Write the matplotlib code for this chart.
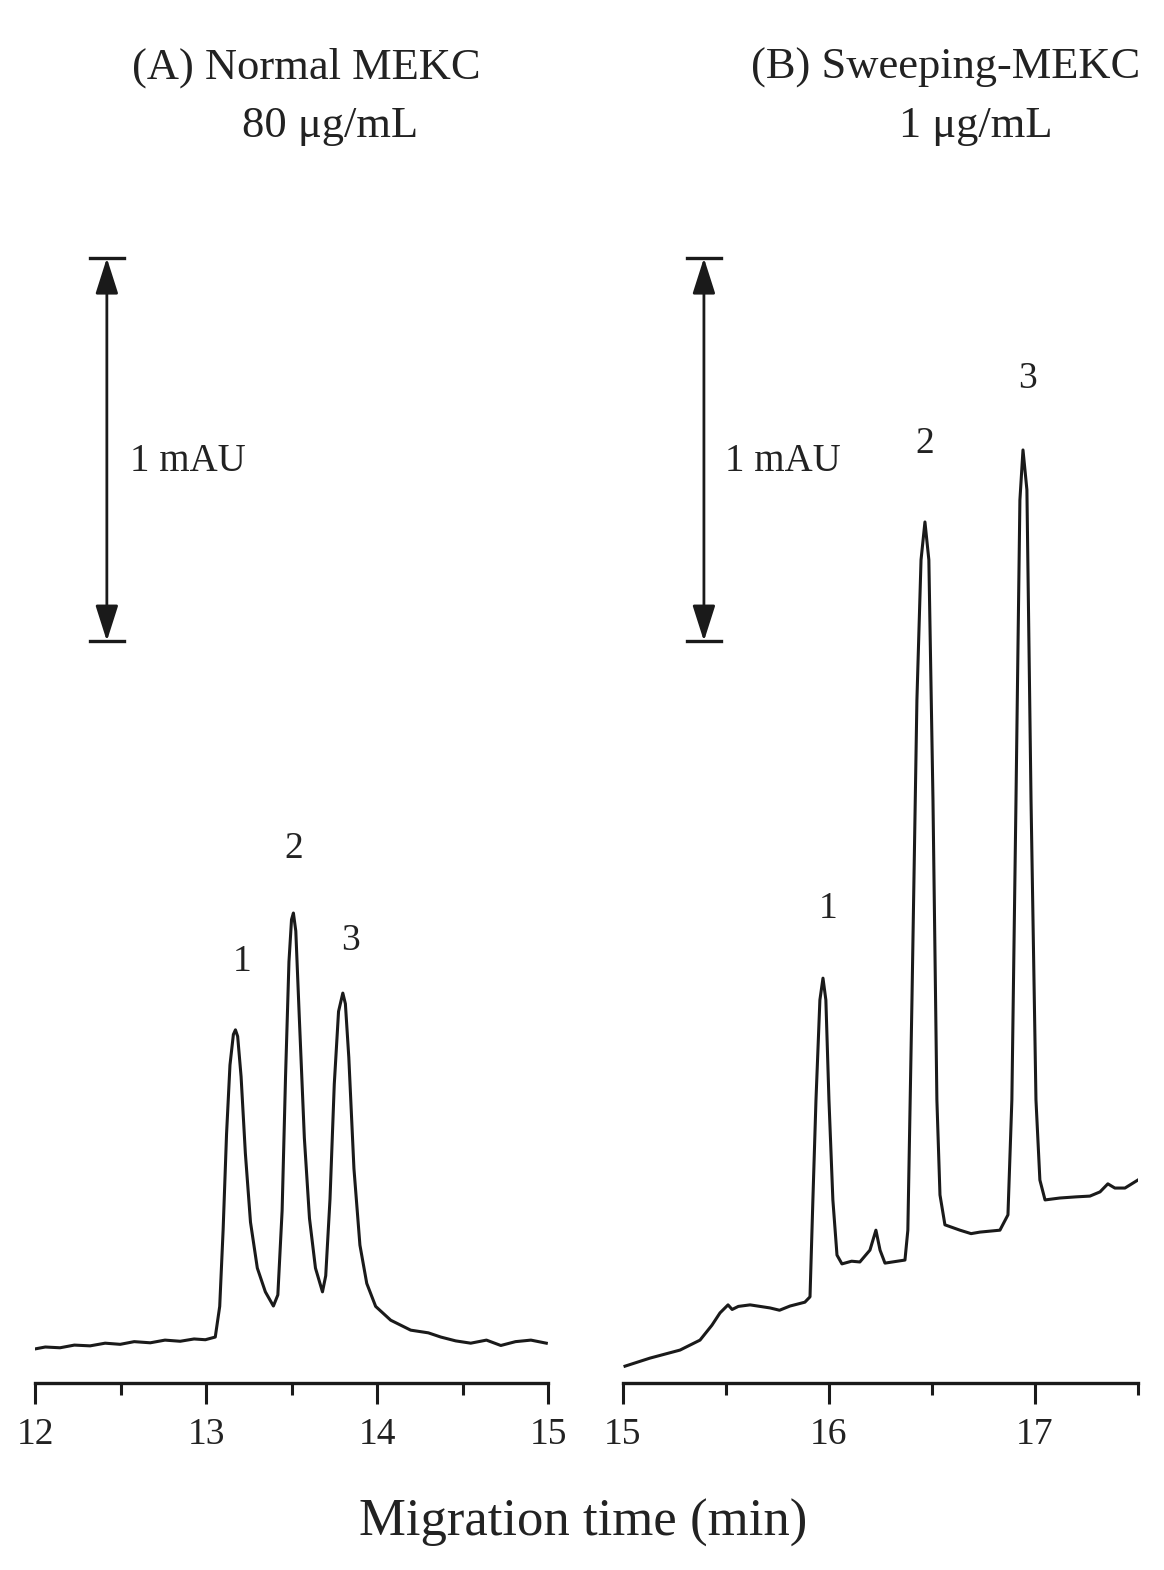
import matplotlib
matplotlib.use("Agg")
import matplotlib.pyplot as plt

plt.rcParams['font.family'] = ['Liberation Serif', 'DejaVu Serif']

# Electropherogram traces
# time in min, absorbance in mAU (offset baseline)

time_a = [12.000, 12.060, 12.146, 12.230, 12.322, 12.410, 12.498, 12.580, 12.674,
          12.760, 12.849, 12.930, 12.996, 13.054, 13.080, 13.100, 13.120, 13.140,
          13.160, 13.172, 13.185, 13.205, 13.230, 13.260, 13.300, 13.347, 13.394,
          13.420, 13.445, 13.465, 13.485, 13.500, 13.511, 13.525, 13.545, 13.575,
          13.605, 13.640, 13.681, 13.700, 13.725, 13.750, 13.775, 13.800, 13.815,
          13.835, 13.865, 13.900, 13.940, 13.992, 14.080, 14.197, 14.300, 14.373,
          14.460, 14.548, 14.640, 14.724, 14.810, 14.900, 14.990]
abs_a = [0.089, 0.094, 0.092, 0.099, 0.097, 0.104, 0.101, 0.108, 0.105,
         0.112, 0.109, 0.115, 0.113, 0.120, 0.200, 0.400, 0.650, 0.830,
         0.910, 0.922, 0.905, 0.800, 0.600, 0.420, 0.300, 0.238, 0.201,
         0.230, 0.450, 0.800, 1.100, 1.210, 1.227, 1.180, 0.960, 0.640,
         0.430, 0.300, 0.238, 0.280, 0.480, 0.780, 0.970, 1.018, 0.990,
         0.850, 0.560, 0.360, 0.260, 0.200, 0.164, 0.138, 0.131, 0.120,
         0.110, 0.104, 0.112, 0.098, 0.108, 0.112, 0.104]

time_b = [15.010, 15.131, 15.277, 15.374, 15.432, 15.471, 15.510, 15.530, 15.560,
          15.617, 15.714, 15.760, 15.811, 15.883, 15.908, 15.922, 15.937, 15.956,
          15.971, 15.985, 16.000, 16.019, 16.039, 16.063, 16.110, 16.150, 16.199,
          16.228, 16.248, 16.272, 16.320, 16.369, 16.383, 16.403, 16.427, 16.447,
          16.466, 16.485, 16.505, 16.524, 16.539, 16.563, 16.636, 16.690, 16.733,
          16.830, 16.869, 16.888, 16.908, 16.927, 16.942, 16.961, 16.981, 17.005,
          17.024, 17.049, 17.121, 17.200, 17.267, 17.316, 17.354, 17.388, 17.437,
          17.500]
abs_b = [0.044, 0.065, 0.086, 0.112, 0.151, 0.183, 0.204, 0.192, 0.200,
         0.204, 0.196, 0.190, 0.201, 0.211, 0.225, 0.478, 0.739, 1.000,
         1.057, 1.000, 0.739, 0.478, 0.334, 0.311, 0.318, 0.316, 0.347,
         0.399, 0.347, 0.313, 0.317, 0.321, 0.399, 1.000, 1.783, 2.149,
         2.248, 2.149, 1.522, 0.739, 0.491, 0.413, 0.399, 0.390, 0.394,
         0.399, 0.439, 0.739, 1.522, 2.305, 2.436, 2.332, 1.522, 0.739,
         0.530, 0.478, 0.483, 0.486, 0.488, 0.499, 0.520, 0.509, 0.509,
         0.530]

ticks_a = [12, 13, 14, 15]
ticks_b = [15, 16, 17]
peak_labels = ['1', '2', '3']
peak_pos_a = [(13.213, 1.10), (13.511, 1.395), (13.845, 1.155)]
peak_pos_b = [(15.995, 1.238), (16.466, 2.452), (16.966, 2.622)]
scale_bar = 1.0  # mAU
scale_top = 2.937

fig = plt.figure(figsize=(11.64, 15.70), dpi=100)
ax_a = fig.add_axes([0.0301, 0.1191, 0.4407, 0.728])
ax_b = fig.add_axes([0.5352, 0.1191, 0.4424, 0.728])

ymax = 2.984
panels = [
    (ax_a, time_a, abs_a, (12, 15), ticks_a, peak_pos_a, 12.42, 0.10, 12.557),
    (ax_b, time_b, abs_b, (15, 17.5), ticks_b, peak_pos_b, 15.393, 0.083, 15.495),
]

for ax, t, a, xlim, ticks, ppos, bar_x, cap, txt_x in panels:
    ax.plot(t, a, color='#1a1a1a', lw=2.2)
    ax.set_xlim(*xlim)
    ax.set_ylim(0, ymax)

    # only the bottom axis is shown
    for s in ['left', 'right', 'top']:
        ax.spines[s].set_visible(False)
    ax.spines['bottom'].set_linewidth(2.4)
    ax.spines['bottom'].set_color('#1a1a1a')
    ax.set_yticks([])
    ax.set_xticks(ticks)
    ax.set_xticks([x + 0.5 for x in ticks[:-1]] + ([17.5] if xlim[1] == 17.5 else []), minor=True)
    ax.tick_params(axis='x', which='major', direction='out', length=15, width=2.2,
                   labelsize=27, pad=10, color='#1a1a1a', labelcolor='#222222')
    ax.tick_params(axis='x', which='minor', direction='out', length=8.5, width=2.2,
                   color='#1a1a1a')
    ax.patch.set_visible(False)

    # peak numbers
    for lab, (px, py) in zip(peak_labels, ppos):
        ax.text(px, py, lab, fontsize=27, ha='center', va='center', color='#222222')

    # 1 mAU scale bar
    bot = scale_top - scale_bar
    ax.annotate('', xy=(bar_x, scale_top), xytext=(bar_x, bot),
                arrowprops=dict(arrowstyle='<|-|>,head_length=1.1,head_width=0.35',
                                mutation_scale=20, color='#1a1a1a', lw=2.0,
                                shrinkA=0, shrinkB=0))
    ax.plot([bar_x - cap, bar_x + cap], [scale_top, scale_top], color='#1a1a1a', lw=2.4)
    ax.plot([bar_x - cap, bar_x + cap], [bot, bot], color='#1a1a1a', lw=2.4)
    ax.text(txt_x, scale_top - scale_bar / 2 - 0.03, '1 mAU', fontsize=28,
            ha='left', va='center', color='#222222')

# panel titles
fig.text(0.263, 0.957, '(A) Normal MEKC', fontsize=32, ha='center', va='center', color='#222222')
fig.text(0.2835, 0.920, '80 μg/mL', fontsize=32, ha='center', va='center', color='#222222')
fig.text(0.812, 0.957, '(B) Sweeping-MEKC', fontsize=32, ha='center', va='center', color='#222222')
fig.text(0.8385, 0.920, '1 μg/mL', fontsize=32, ha='center', va='center', color='#222222')

fig.text(0.501, 0.030, 'Migration time (min)', fontsize=38, ha='center', va='center', color='#222222')

fig.savefig('out.png', dpi=100)
